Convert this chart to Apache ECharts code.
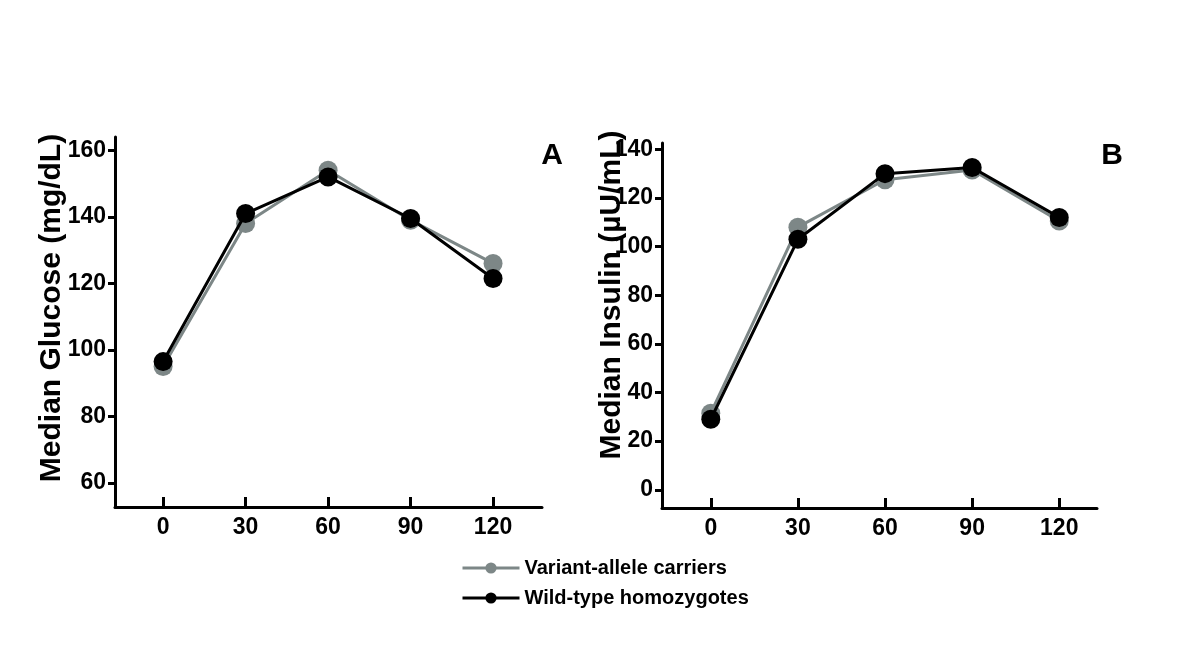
<!DOCTYPE html>
<html>
<head>
<meta charset="utf-8">
<script src="https://cdn.jsdelivr.net/npm/echarts@6/dist/echarts.min.js"></script>
<style>
  html, body { margin: 0; padding: 0; background: #fff; }
  #chart { width: 1200px; height: 655px; }
</style>
</head>
<body>
<div id="chart"></div>
<script>
// sampling times (min)
const times = [0, 30, 60, 90, 120];
const timeTicks = [0, 30, 60, 90, 120];

// panel A: median glucose (mg/dL)
const glucoseVariant = [95, 138, 154, 139, 126];
const glucoseWild = [96.5, 141, 152, 139.5, 121.5];
const glucoseTicks = [60, 80, 100, 120, 140, 160];

// panel B: median insulin (µU/mL)
const insulinVariant = [31.5, 108, 127.5, 131.5, 110.5];
const insulinWild = [29, 103, 130, 132.5, 112];
const insulinTicks = [0, 20, 40, 60, 80, 100, 120, 140];

const seriesNames = ['Variant-allele carriers', 'Wild-type homozygotes'];
const grayColor = '#7d8787';
const font = 'Liberation Sans, Arial, sans-serif';

const pairs = (ys) => times.map((t, i) => [t, ys[i]]);

const chartDom = document.getElementById('chart');
const chart = echarts.init(chartDom);

const axisLine = { show: true, onZero: false, lineStyle: { color: '#000', width: 3 } };
const tickLabel = { fontFamily: font, fontWeight: 'bold', fontSize: 23, color: '#000' };

function xAxisFor(gridIndex, min, max) {
    return {
        type: 'value', gridIndex, min, max,
        splitLine: { show: false },
        axisLine,
        axisTick: { show: true, inside: true, length: 10, lineStyle: { width: 3, color: '#000' }, customValues: timeTicks },
        axisLabel: Object.assign({ margin: 9, customValues: timeTicks }, tickLabel)
    };
}
function yAxisFor(gridIndex, min, max, ticks) {
    return {
        type: 'value', gridIndex, min, max,
        splitLine: { show: false },
        axisLine,
        axisTick: { show: true, length: 7, lineStyle: { width: 3, color: '#000' }, customValues: ticks },
        axisLabel: Object.assign({ margin: 9, customValues: ticks }, tickLabel)
    };
}
function lineSeries(name, data, color, idx) {
    return {
        name, type: 'line', data: pairs(data),
        xAxisIndex: idx, yAxisIndex: idx,
        symbol: 'circle', symbolSize: 19,
        lineStyle: { color, width: 3 },
        itemStyle: { color },
        z: name === seriesNames[1] ? 3 : 2
    };
}

const option = {
    animation: false,
    grid: [
        { left: 115, right: 658, top: 137, bottom: 148 },
        { left: 662, right: 103, top: 143, bottom: 147 }
    ],
    xAxis: [xAxisFor(0, -17.5, 137.8), xAxisFor(1, -16.8, 133)],
    yAxis: [yAxisFor(0, 52.8, 164, glucoseTicks), yAxisFor(1, -7.5, 142.6, insulinTicks)],
    legend: {
        orient: 'vertical', left: 456, top: 553,
        itemWidth: 57, itemHeight: 14, itemGap: 10,
        data: seriesNames,
        itemStyle: { borderWidth: 0 },
        lineStyle: { width: 3 },
        textStyle: { fontFamily: font, fontWeight: 'bold', fontSize: 20, color: '#000' }
    },
    graphic: [
        { type: 'text', x: 52, y: 308, rotation: Math.PI / 2,
          style: { text: 'Median Glucose (mg/dL)', fontFamily: font, fontWeight: 'bold', fontSize: 30, fill: '#000', textAlign: 'center', textVerticalAlign: 'middle' } },
        { type: 'text', x: 612, y: 295, rotation: Math.PI / 2,
          style: { text: 'Median Insulin (µU/mL)', fontFamily: font, fontWeight: 'bold', fontSize: 30, fill: '#000', textAlign: 'center', textVerticalAlign: 'middle' } },
        { type: 'text', x: 552, y: 156,
          style: { text: 'A', fontFamily: font, fontWeight: 'bold', fontSize: 30, fill: '#000', textAlign: 'center', textVerticalAlign: 'middle' } },
        { type: 'text', x: 1112, y: 156,
          style: { text: 'B', fontFamily: font, fontWeight: 'bold', fontSize: 30, fill: '#000', textAlign: 'center', textVerticalAlign: 'middle' } }
    ],
    series: [
        lineSeries(seriesNames[0], glucoseVariant, grayColor, 0),
        lineSeries(seriesNames[1], glucoseWild, '#000', 0),
        lineSeries(seriesNames[0], insulinVariant, grayColor, 1),
        lineSeries(seriesNames[1], insulinWild, '#000', 1)
    ]
};

option && chart.setOption(option);
</script>
</body>
</html>
